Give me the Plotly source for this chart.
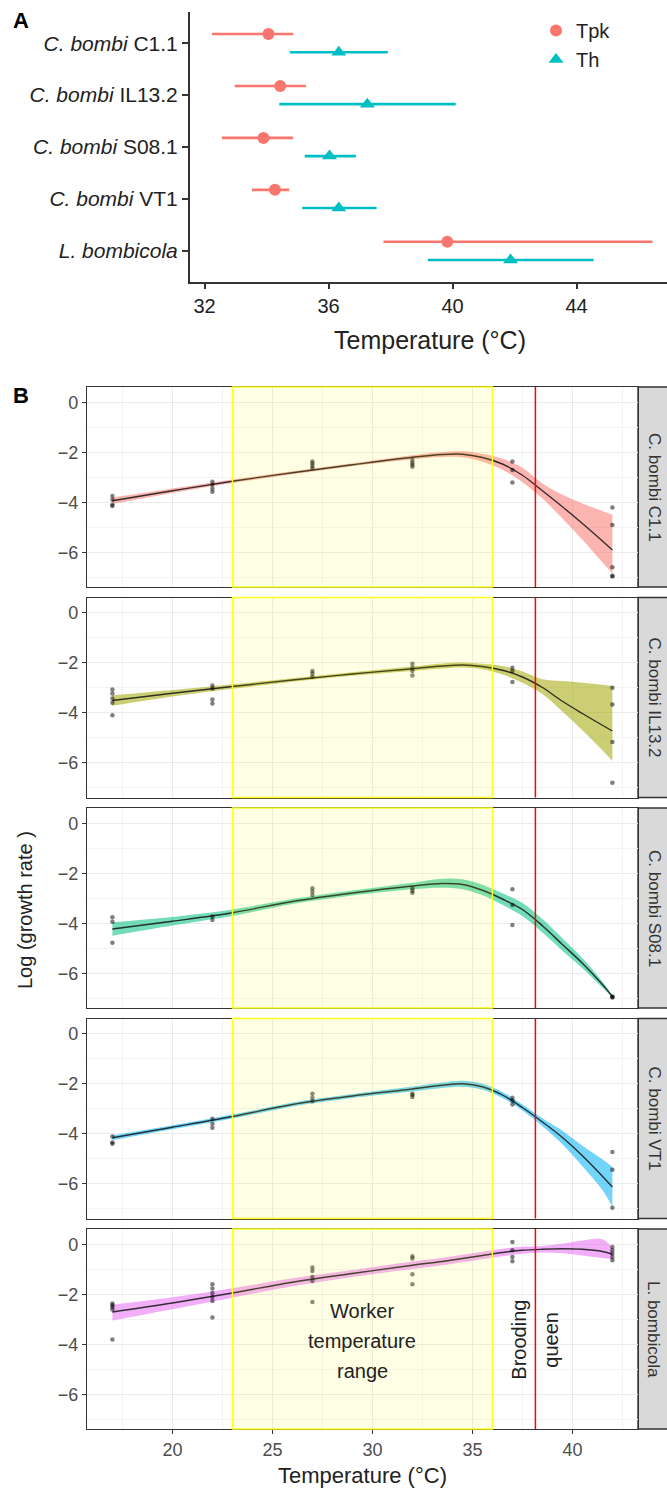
import plotly.graph_objects as go

W, H = 667, 1491
FONT = "Liberation Sans, Arial, sans-serif"

# ---------------- Panel A data ----------------
STRAINS = ["C. bombi C1.1", "C. bombi IL13.2", "C. bombi S08.1", "C. bombi VT1", "L. bombicola"]
STRAIN_TICKS = ["<i>C. bombi</i> C1.1", "<i>C. bombi</i> IL13.2", "<i>C. bombi</i> S08.1",
                "<i>C. bombi</i> VT1", "<i>L. bombicola</i>"]
TPK = [34.06, 34.44, 33.90, 34.27, 39.83]
TPK_LO = [32.24, 32.97, 32.56, 33.53, 37.77]
TPK_HI = [34.86, 35.27, 34.86, 34.73, 46.45]
TH = [36.33, 37.25, 36.03, 36.33, 41.87]
TH_LO = [34.75, 34.41, 35.23, 35.15, 39.20]
TH_HI = [37.91, 40.10, 36.88, 37.55, 44.55]
A_XTICKS = [32, 36, 40, 44]

# ---------------- Panel B data ----------------
PT_TEMPS = [17, 22, 27, 32, 37, 42]
PTS_C11 = [[-3.75, -3.90, -4.10, -4.15], [-3.18, -3.30, -3.45, -3.58], [-2.37, -2.45, -2.55, -2.64],
           [-2.31, -2.42, -2.50, -2.58], [-2.37, -2.71, -3.21], [-4.21, -4.91, -6.60, -6.94, -6.97]]
PTS_IL = [[-3.07, -3.23, -3.43, -3.60, -4.10], [-2.91, -3.03, -3.47, -3.63], [-2.33, -2.43, -2.56],
          [-2.04, -2.20, -2.33, -2.51], [-2.20, -2.33, -2.77], [-3.00, -3.67, -5.17, -6.80]]
PTS_S08 = [[-3.76, -3.94, -4.78], [-3.73, -3.87], [-2.60, -2.73, -2.87],
           [-2.60, -2.70, -2.78], [-2.64, -3.27, -4.07], [-6.93, -6.95, -6.97]]
PTS_VT1 = [[-4.11, -4.35, -4.40], [-3.40, -3.60, -3.76], [-2.40, -2.56, -2.70],
           [-2.40, -2.45, -2.53], [-2.56, -2.67, -2.83], [-4.73, -5.44, -6.96]]
PTS_LB = [[-2.37, -2.44, -2.51, -2.61, -3.81], [-1.60, -1.77, -1.95, -2.11, -2.27, -2.93],
          [-0.93, -1.07, -1.31, -1.47, -2.31], [-0.48, -0.57, -1.20, -1.60],
          [0.09, -0.24, -0.51, -0.68], [-0.11, -0.24, -0.37, -0.51, -0.64]]

CURVE_X = [17, 20, 23, 26, 29, 32, 33.5, 34.5, 35.5, 36.5, 37.5, 38.5, 39.5, 40.5, 41.5, 42]
FIT_C11 = [-3.94, -3.54, -3.16, -2.82, -2.50, -2.20, -2.09, -2.08, -2.21, -2.47, -2.92, -3.54, -4.18, -4.85, -5.55, -5.91]
LO_C11 = [-4.07, -3.63, -3.23, -2.88, -2.56, -2.28, -2.19, -2.20, -2.38, -2.70, -3.20, -3.85, -4.65, -5.50, -6.40, -6.85]
HI_C11 = [-3.81, -3.45, -3.09, -2.76, -2.44, -2.12, -1.99, -1.96, -2.06, -2.26, -2.62, -3.25, -3.70, -4.05, -4.35, -4.50]
FIT_IL = [-3.51, -3.22, -2.95, -2.69, -2.45, -2.24, -2.13, -2.09, -2.15, -2.30, -2.57, -2.99, -3.54, -4.03, -4.50, -4.73]
LO_IL = [-3.72, -3.35, -3.04, -2.76, -2.52, -2.33, -2.23, -2.19, -2.26, -2.47, -2.80, -3.25, -3.95, -4.70, -5.50, -5.93]
HI_IL = [-3.30, -3.09, -2.86, -2.62, -2.38, -2.15, -2.03, -1.99, -2.04, -2.13, -2.35, -2.66, -2.73, -2.80, -2.88, -2.93]
FIT_S08 = [-4.23, -3.92, -3.58, -3.13, -2.79, -2.51, -2.41, -2.45, -2.68, -3.03, -3.45, -4.10, -4.85, -5.60, -6.45, -6.93]
LO_S08 = [-4.50, -4.09, -3.71, -3.23, -2.89, -2.64, -2.58, -2.64, -2.88, -3.26, -3.71, -4.37, -5.10, -5.80, -6.57, -6.96]
HI_S08 = [-3.96, -3.75, -3.45, -3.03, -2.69, -2.38, -2.22, -2.24, -2.46, -2.80, -3.19, -3.83, -4.60, -5.40, -6.33, -6.90]
FIT_VT1 = [-4.16, -3.74, -3.31, -2.83, -2.49, -2.21, -2.06, -2.00, -2.12, -2.45, -2.95, -3.53, -4.15, -4.88, -5.70, -6.13]
LO_VT1 = [-4.26, -3.82, -3.39, -2.91, -2.57, -2.31, -2.17, -2.12, -2.24, -2.57, -3.07, -3.70, -4.42, -5.30, -6.25, -6.93]
HI_VT1 = [-4.06, -3.66, -3.23, -2.75, -2.41, -2.11, -1.95, -1.88, -2.00, -2.33, -2.83, -3.38, -3.88, -4.48, -5.02, -5.33]
FIT_LB = [-2.71, -2.35, -1.95, -1.52, -1.17, -0.84, -0.69, -0.57, -0.45, -0.33, -0.24, -0.20, -0.18, -0.20, -0.29, -0.40]
LO_LB = [-3.05, -2.60, -2.14, -1.68, -1.31, -0.99, -0.84, -0.72, -0.60, -0.48, -0.38, -0.33, -0.36, -0.45, -0.55, -0.60]
HI_LB = [-2.42, -2.12, -1.76, -1.36, -1.03, -0.69, -0.54, -0.42, -0.30, -0.18, -0.10, -0.07, 0.02, 0.15, 0.20, -0.15]

STRAIN_COLORS = ["#F8766D", "#A3A500", "#00BF7D", "#00B0F6", "#E76BF3"]
WORKER_RANGE = [23, 36]
QUEEN_TEMP = 38.15
B_XTICKS = [20, 25, 30, 35, 40]
B_YTICKS = [-6, -4, -2, 0]

PANELS = [
    (PTS_C11, FIT_C11, LO_C11, HI_C11),
    (PTS_IL, FIT_IL, LO_IL, HI_IL),
    (PTS_S08, FIT_S08, LO_S08, HI_S08),
    (PTS_VT1, FIT_VT1, LO_VT1, HI_VT1),
    (PTS_LB, FIT_LB, LO_LB, HI_LB),
]


def rgba(hexc, a):
    h = hexc.lstrip("#")
    return "rgba(%d,%d,%d,%.2f)" % (int(h[0:2], 16), int(h[2:4], 16), int(h[4:6], 16), a)


def px_x(p):
    return p / W


def px_y(p):
    return 1 - p / H


def ann(text, x, y, size, color="#222", angle=0, xref="paper", yref="paper"):
    return dict(text=text, x=x, y=y, xref=xref, yref=yref, showarrow=False, textangle=angle,
                xanchor="center", yanchor="middle", font=dict(size=size, color=color))


fig = go.Figure()

# ---------------- Panel A ----------------
DODGE = 0.175
cat_pos = [len(STRAINS) - i for i in range(len(STRAINS))]
fig.add_trace(go.Scatter(
    x=TPK, y=[p + DODGE for p in cat_pos], mode="markers", name="Tpk",
    marker=dict(symbol="circle", size=12, color="#F8766D"),
    error_x=dict(type="data", symmetric=False,
                 array=[h - v for h, v in zip(TPK_HI, TPK)],
                 arrayminus=[v - l for v, l in zip(TPK, TPK_LO)],
                 color="#F8766D", thickness=2.6, width=0),
    xaxis="x", yaxis="y", showlegend=True))
fig.add_trace(go.Scatter(
    x=TH, y=[p - DODGE for p in cat_pos], mode="markers", name="Th",
    marker=dict(symbol="triangle-up", size=13, color="#00BFC4"),
    error_x=dict(type="data", symmetric=False,
                 array=[h - v for h, v in zip(TH_HI, TH)],
                 arrayminus=[v - l for v, l in zip(TH, TH_LO)],
                 color="#00BFC4", thickness=2.6, width=0),
    xaxis="x", yaxis="y", showlegend=True))

layout = dict(
    width=W, height=H, margin=dict(l=0, r=0, t=0, b=0),
    paper_bgcolor="white", plot_bgcolor="white",
    font=dict(family=FONT, color="#222"),
    showlegend=True,
    legend=dict(x=px_x(536), y=px_y(11), xanchor="left", yanchor="top", traceorder="normal",
                font=dict(size=20, color="#222"), bgcolor="rgba(0,0,0,0)",
                itemwidth=30, tracegroupgap=0),
    xaxis=dict(domain=[px_x(190), 1], range=[31.53, 31.53 + 477 / 31], anchor="y",
               showline=True, linecolor="#333", linewidth=2, ticks="outside", ticklen=5,
               tickcolor="#333", tickwidth=1.5, tickvals=A_XTICKS, showgrid=False, zeroline=False,
               tickfont=dict(size=20, color="#222")),
    yaxis=dict(domain=[px_y(282), px_y(12)], range=[0.4, 5.6], anchor="x",
               showline=True, linecolor="#333", linewidth=2, ticks="outside", ticklen=6,
               tickcolor="#333", tickwidth=1.5, tickvals=cat_pos, ticktext=STRAIN_TICKS,
               showgrid=False, zeroline=False, tickfont=dict(size=21, color="#222")),
)

shapes = []
annotations = [
    ann("<b>A</b>", px_x(21), px_y(20), 22, "black"),
    ann("<b>B</b>", px_x(21), px_y(396), 22, "black"),
    ann("Temperature (°C)", px_x(430), px_y(340), 25),
    ann("Temperature (°C)", px_x(362), px_y(1475), 22),
    ann("Log (growth rate )", px_x(25), px_y(910), 20, angle=-90),
]

# ---------------- Panel B ----------------
B_LEFT, B_RIGHT = 87, 638
TOP0, PANEL_H, STEP = 387, 200, 210.5
XR = [15.73, 43.28]
YR = [-7.39, 0.61]

for i, (pts, fit, lo, hi) in enumerate(PANELS):
    n = i + 2
    xa, ya = "x%d" % n, "y%d" % n
    col = STRAIN_COLORS[i]
    top = TOP0 + i * STEP
    bot = top + PANEL_H
    last = i == len(PANELS) - 1

    fig.add_trace(go.Scatter(x=CURVE_X, y=lo, mode="lines", line=dict(width=0, shape="spline"),
                             xaxis=xa, yaxis=ya, showlegend=False, hoverinfo="skip"))
    fig.add_trace(go.Scatter(x=CURVE_X, y=hi, mode="lines", line=dict(width=0, shape="spline"),
                             fill="tonexty", fillcolor=rgba(col, 0.55),
                             xaxis=xa, yaxis=ya, showlegend=False, hoverinfo="skip"))
    fig.add_trace(go.Scatter(x=CURVE_X, y=fit, mode="lines",
                             line=dict(width=1.4, color="rgba(20,20,20,0.85)", shape="spline"),
                             xaxis=xa, yaxis=ya, showlegend=False))
    px, py = [], []
    for t, vals in zip(PT_TEMPS, pts):
        for v in vals:
            px.append(t)
            py.append(v)
    fig.add_trace(go.Scatter(x=px, y=py, mode="markers",
                             marker=dict(size=4.5, color="rgba(0,0,0,0.5)"),
                             xaxis=xa, yaxis=ya, showlegend=False))

    layout["xaxis%d" % n] = dict(
        domain=[px_x(B_LEFT), px_x(B_RIGHT)], range=XR, anchor=ya,
        showline=True, mirror=True, linecolor="#333", linewidth=1.4,
        showgrid=True, gridcolor="#EBEBEB", gridwidth=1.3, zeroline=False,
        tickvals=B_XTICKS, showticklabels=last, ticks="outside" if last else "",
        ticklen=4, tickcolor="#333", tickfont=dict(size=18, color="#4D4D4D"),
        minor=dict(tick0=17.5, dtick=5, showgrid=True, gridcolor="#F3F3F3", gridwidth=0.8),
    )
    layout["yaxis%d" % n] = dict(
        domain=[px_y(bot), px_y(top)], range=YR, anchor=xa,
        showline=True, mirror=True, linecolor="#333", linewidth=1.4,
        showgrid=True, gridcolor="#EBEBEB", gridwidth=1.3, zeroline=False,
        tickvals=B_YTICKS, ticks="outside", ticklen=4, tickcolor="#333",
        tickfont=dict(size=18, color="#4D4D4D"),
        minor=dict(tick0=-7, dtick=2, showgrid=True, gridcolor="#F3F3F3", gridwidth=0.8),
    )

    # worker temperature range
    shapes.append(dict(type="rect", xref=xa, yref="%s domain" % ya,
                       x0=WORKER_RANGE[0], x1=WORKER_RANGE[1], y0=0, y1=1,
                       fillcolor="rgba(255,255,0,0.10)", line=dict(color="#FFFF22", width=1.4),
                       layer="above"))
    # brooding queen
    shapes.append(dict(type="line", xref=xa, yref="%s domain" % ya,
                       x0=QUEEN_TEMP, x1=QUEEN_TEMP, y0=0, y1=1,
                       line=dict(color="#FF0000", width=1.5), layer="above"))
    # strip
    shapes.append(dict(type="rect", xref="paper", yref="paper",
                       x0=px_x(B_RIGHT), x1=px_x(B_RIGHT + 32), y0=px_y(bot), y1=px_y(top),
                       fillcolor="#D9D9D9", line=dict(color="#333", width=1.4), layer="below"))
    annotations.append(ann(STRAINS[i], px_x(654), px_y((top + bot) / 2), 17, "#333", angle=90))

# text labels in bottom panel
for txt, yv in zip(["Worker", "temperature", "range"], [-2.67, -3.87, -5.07]):
    annotations.append(ann(txt, 29.5, yv, 20, xref="x6", yref="y6"))
annotations.append(ann("Brooding", 37.35, -3.8, 20, angle=-90, xref="x6", yref="y6"))
annotations.append(ann("queen", 38.95, -3.8, 20, angle=-90, xref="x6", yref="y6"))

layout["shapes"] = shapes
layout["annotations"] = annotations
fig.update_layout(**layout)

fig.write_html("out.html", config={"displayModeBar": False},
               post_script="document.body.style.margin='0';")
